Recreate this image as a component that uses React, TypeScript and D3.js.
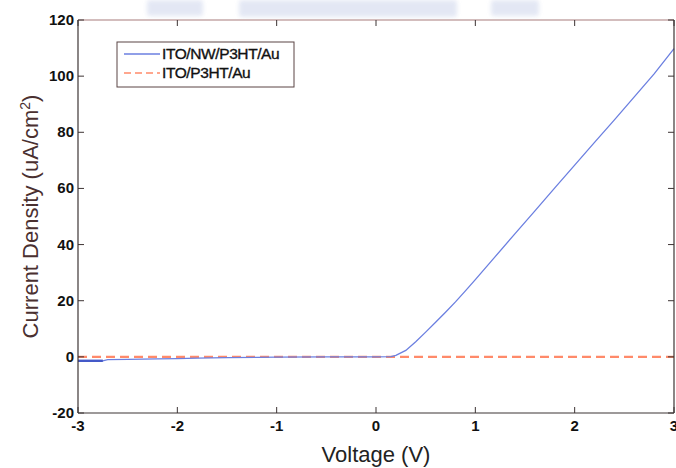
import React from "react";
import * as d3 from "d3";

const seriesNames = ["ITO/NW/P3HT/Au", "ITO/P3HT/Au"];
const voltageNW = [-3, -2.75, -2.7, -2.5, -2.2, -2, -1.8, -1.5, -1.2, -1, -0.5, 0, 0.15, 0.2, 0.3, 0.4, 0.5, 0.6, 0.7, 0.8, 0.9, 1.0, 1.2, 1.4, 1.6, 1.8, 2.0, 2.2, 2.4, 2.6, 2.8, 3.0];
const currentNW = [-1.4, -1.4, -1.0, -0.9, -0.7, -0.6, -0.45, -0.3, -0.15, -0.08, 0, 0, 0.1, 0.5, 2.3, 5.4, 8.8, 12.3, 15.9, 19.6, 23.5, 27.5, 35.7, 43.9, 52.0, 60.2, 68.3, 76.4, 84.4, 92.6, 100.8, 109.8];
const voltageRef = [-3, -2, -1, 0, 1, 2, 3];
const currentRef = [0, 0, 0, 0, 0, 0, 0];
const xTicks = [-3, -2, -1, 0, 1, 2, 3];
const yTicks = [-20, 0, 20, 40, 60, 80, 100, 120];

const W = 676, H = 468;
const M = { left: 78, right: 674, top: 20, bottom: 413 };

export default function App() {
  const x = d3.scaleLinear().domain([-3, 3]).range([M.left, M.right]);
  const y = d3.scaleLinear().domain([-20, 120]).range([M.bottom, M.top]);
  const line = d3.line<[number, number]>().x(d => x(d[0])).y(d => y(d[1]));
  const nw = voltageNW.map((v, i) => [v, currentNW[i]] as [number, number]);
  const ref = voltageRef.map((v, i) => [v, currentRef[i]] as [number, number]);
  const font = "Arial, 'Liberation Sans', sans-serif";
  const axisCol = "#3d3434";
  return (
    <svg width={W} height={H} style={{ position: "absolute", left: 0, top: 0, background: "#fff" }} fontFamily={font}>
      <defs>
        <filter id="blur"><feGaussianBlur stdDeviation="2" /></filter>
      </defs>
      <g fill="#cdd5ec" opacity={0.55} filter="url(#blur)">
        <rect x={147} y={0} width={56} height={16} rx={3} />
        <rect x={239} y={0} width={218} height={17} rx={3} />
        <rect x={491} y={0} width={48} height={16} rx={3} />
      </g>
      <rect x={M.left} y={M.top} width={M.right - M.left} height={M.bottom - M.top} fill="#fff" />
      {/* series */}
      <path d={line(ref) || ""} fill="none" stroke="#ff8a6a" strokeWidth={2.2} strokeDasharray="9,5" />
      <path d={line(nw) || ""} fill="none" stroke="#6b7fe0" strokeWidth={1.3} />
      <path d={line(nw.slice(0, 2)) || ""} fill="none" stroke="#4459c8" strokeWidth={2.4} />
      {/* frame */}
      <line x1={M.left} x2={M.right} y1={M.top} y2={M.top} stroke="#a87c7c" strokeWidth={1.2} />
      <line x1={M.left} x2={M.right} y1={M.bottom} y2={M.bottom} stroke={axisCol} strokeWidth={1.2} />
      <line x1={M.left} x2={M.left} y1={M.top} y2={M.bottom} stroke={axisCol} strokeWidth={1.2} />
      <line x1={M.right} x2={M.right} y1={M.top} y2={M.bottom} stroke={axisCol} strokeWidth={1.2} />
      {/* ticks */}
      {xTicks.map(t => (
        <g key={"x" + t}>
          <line x1={x(t)} x2={x(t)} y1={M.bottom} y2={M.bottom - 6} stroke={axisCol} />
          <line x1={x(t)} x2={x(t)} y1={M.top} y2={M.top + 6} stroke={axisCol} />
          <text x={x(t)} y={M.bottom + 18} textAnchor="middle" fontSize={15} fontWeight="bold" fill="#111">{t}</text>
        </g>
      ))}
      {yTicks.map(t => (
        <g key={"y" + t}>
          <line x1={M.left} x2={M.left + 6} y1={y(t)} y2={y(t)} stroke={axisCol} />
          <line x1={M.right} x2={M.right - 6} y1={y(t)} y2={y(t)} stroke={axisCol} />
          <text x={M.left - 4} y={y(t) + 5} textAnchor="end" fontSize={15} fontWeight="bold" fill="#111">{t}</text>
        </g>
      ))}
      {/* axis labels */}
      <text x={(M.left + M.right) / 2} y={462} textAnchor="middle" fontSize={22} fill="#222">Voltage (V)</text>
      <text transform={`translate(38,${(M.top + M.bottom) / 2}) rotate(-90)`} textAnchor="middle" fontSize={22} fill="#4a3030">
        Current Density (uA/cm<tspan dy={-8} fontSize={14}>2</tspan><tspan dy={8}>)</tspan>
      </text>
      {/* legend */}
      <g>
        <rect x={117} y={42} width={177} height={45} fill="#fff" stroke="#5a4545" strokeWidth={1} />
        <line x1={124} x2={160} y1={54} y2={54} stroke="#6b7fe0" strokeWidth={1.3} />
        <line x1={124} x2={160} y1={73} y2={73} stroke="#ff8a6a" strokeWidth={1.6} strokeDasharray="7,4" />
        <text x={162} y={59} fontSize={15.5} fill="#111" stroke="#111" strokeWidth={0.35} letterSpacing={-0.4}>{seriesNames[0]}</text>
        <text x={162} y={78} fontSize={15.5} fill="#111" stroke="#111" strokeWidth={0.35} letterSpacing={-0.4}>{seriesNames[1]}</text>
      </g>
    </svg>
  );
}
